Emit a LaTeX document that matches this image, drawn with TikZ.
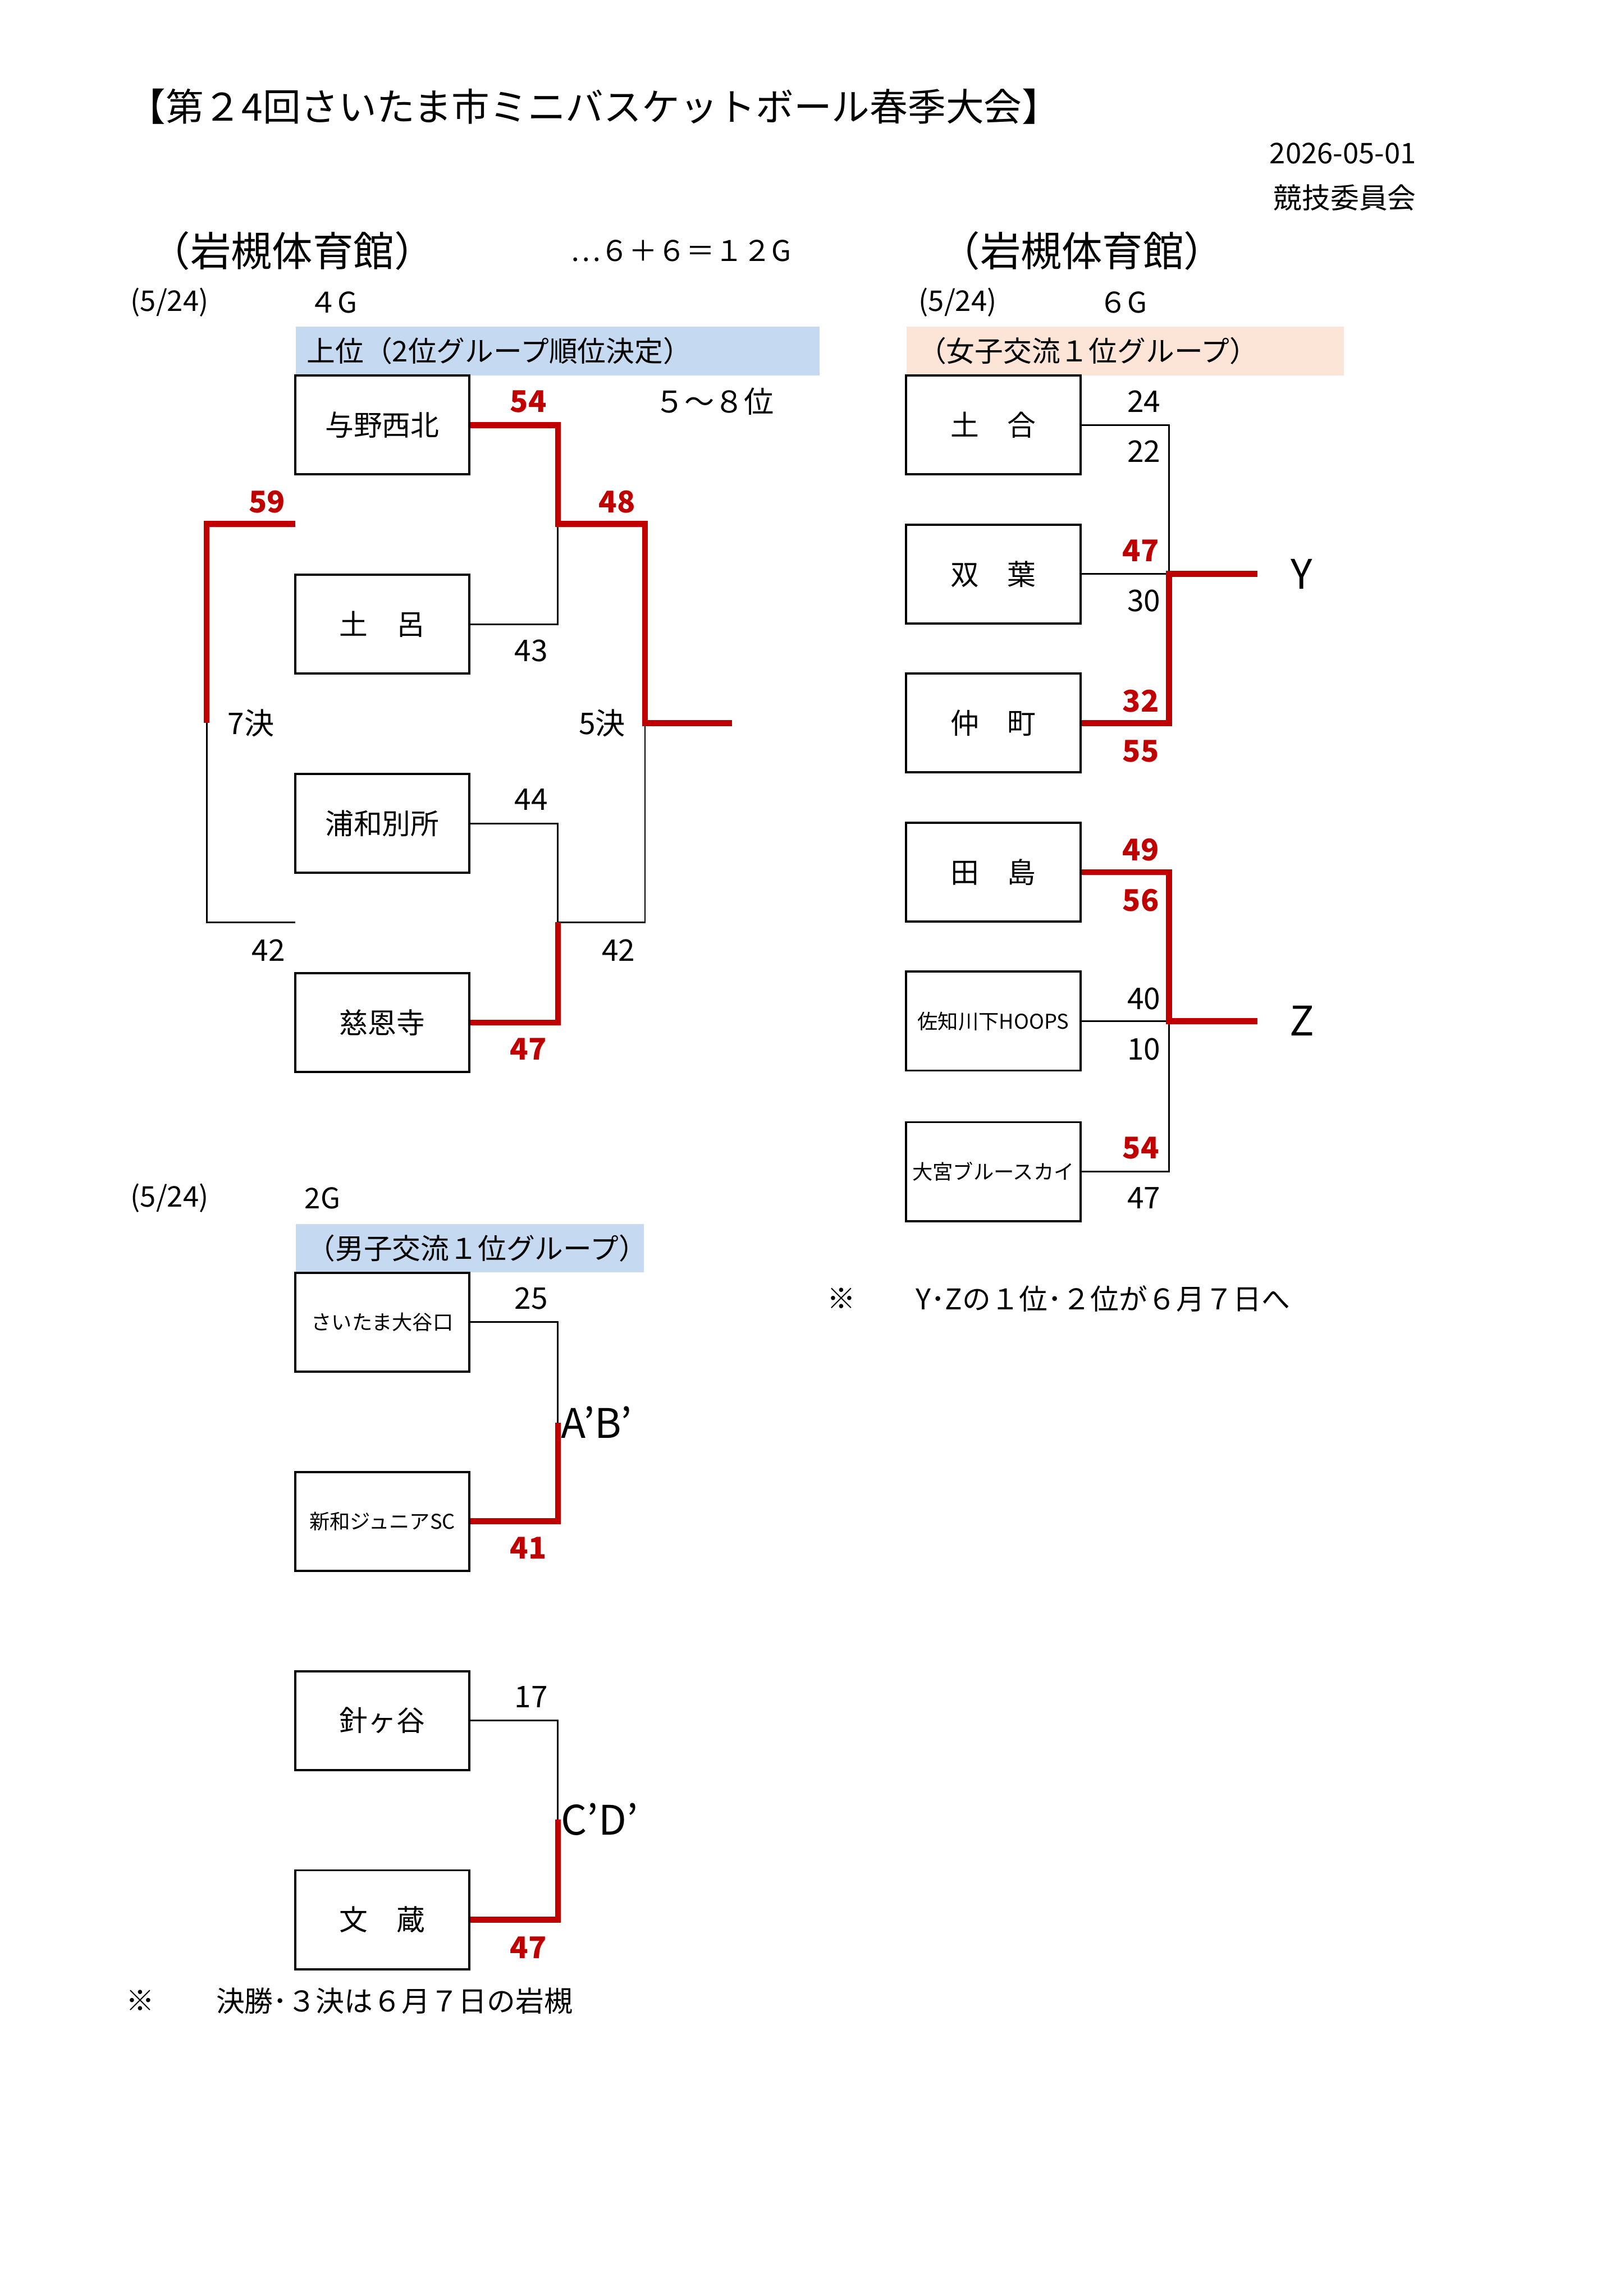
\documentclass[tikz,border=0pt]{standalone}
\usepackage{fontspec}
\setmainfont{Noto Sans CJK JP}
\usepackage{xcolor}
\usetikzlibrary{positioning}
\definecolor{my-red}{RGB}{192,0,0}
\definecolor{my-blue}{RGB}{197,217,241}
\definecolor{my-peach}{RGB}{252,228,214}
\begin{document}
\begin{tikzpicture}[x=0.0191cm,y=-0.0191cm,
    font=\fontsize{10.5}{12}\selectfont,
    team/.style={draw, line width=0.8pt, minimum width=118*0.0191cm, minimum height=67*0.0191cm, inner sep=1pt},
    small/.style={font=\fontsize{7.5}{9}\selectfont},
    band/.style={anchor=north west, inner sep=3pt, minimum height=33*0.0191cm},
    win/.style={my-red, line width=2.2pt},
    lose/.style={black, line width=0.6pt},
    red/.style={text=my-red, font=\bfseries\fontsize{11}{12}\selectfont},
    sc/.style={font=\fontsize{11}{12}\selectfont}
    ]
    \useasboundingbox (0,0) rectangle (1100,1556);

    %%% HEADER
    \node[anchor=west, font=\fontsize{14}{16}\selectfont] (title) at (80,72) {【第２4回さいたま市ミニバスケットボール春季大会】};
    \node[anchor=east] (date) at (966,104) {2026-05-01};
    \node[anchor=east] (comm) at (966,134) {競技委員会};

    %%% LEFT
    \node[anchor=west, font=\fontsize{15}{16}\selectfont] (hall1) at (95,170) {（岩槻体育館）};
    \node[anchor=west] (games1) at (380,170) {…６＋６＝１２G};
    \node[anchor=west] (day1) at (82,205) {(5/24)};
    \node[anchor=west] (g1) at (203,205) {４G};
    \node[band, fill=my-blue, minimum width=355*0.0191cm, align=left, text width=340*0.0191cm] (band1) at (200,221) {上位（2位グループ順位決定）};
    \node[team] (yono) at (259,288) {与野西北};
    \node[team] (toro) at (259,423) {土\quad 呂};
    \node[team] (urawa) at (259,558) {浦和別所};
    \node[team] (jion) at (259,693) {慈恩寺};
    \coordinate (s1) at (378,355);
    \coordinate (s2) at (378,625);
    \coordinate (f5) at (437,490);
    \coordinate (f5e) at (496,490);
    \coordinate (f7) at (140,490);

    \draw[lose] (toro.east) -| (s1);
    \draw[lose] (urawa.east) -| (s2);
    \draw[lose] (s2) -| (f5);
    \draw[lose] (f7) |- (200,625);
    \draw[win] (yono.east) -| (s1) -| (f5) -- (f5e);
    \draw[win] (jion.east) -| (s2);
    \draw[win] (200,355) -| (f7);

    \node[red] at (358,272) {54};
    \node[red] at (418,340) {48};
    \node[red] at (181,340) {59};
    \node[sc] at (360,441) {43};
    \node[sc] at (170,490) {7決};
    \node[sc] at (408,490) {5決};
    \node[sc] at (360,542) {44};
    \node[sc] at (182,644) {42};
    \node[sc] at (419,644) {42};
    \node[red] at (358,711) {47};
    \node[sc] at (484,272) {５～８位};

    %%% RIGHT
    \node[anchor=west, font=\fontsize{15}{16}\selectfont] (hall2) at (630,170) {（岩槻体育館）};
    \node[anchor=west] (day2) at (616,205) {(5/24)};
    \node[anchor=west] (g2) at (738,205) {６G};
    \node[band, fill=my-peach, minimum width=296*0.0191cm, align=left, text width=281*0.0191cm] (band2) at (614,221) {（女子交流１位グループ）};
    \node[team] (doai) at (673,288) {土\quad 合};
    \node[team] (futaba) at (673,389) {双\quad 葉};
    \node[team] (naka) at (673,490) {仲\quad 町};
    \node[team] (tajima) at (673,591) {田\quad 島};
    \node[team, small] (hoops) at (673,692) {佐知川下HOOPS};
    \node[team, small] (omiya) at (673,794) {大宮ブルースカイ};
    \coordinate (y1) at (792,389);
    \coordinate (z1) at (792,692);
    \node[font=\fontsize{15}{16}\selectfont] (Y) at (882,389) {Y};
    \node[font=\fontsize{15}{16}\selectfont] (Z) at (882,692) {Z};

    \draw[lose] (doai.east) -| (y1);
    \draw[lose] (futaba.east) -- (y1);
    \draw[lose] (hoops.east) -- (z1);
    \draw[lose] (omiya.east) -| (z1);
    \draw[win] (naka.east) -| (y1) -- (852,389);
    \draw[win] (tajima.east) -| (z1) -- (852,692);

    \node[sc] at (775,272) {24};
    \node[sc] at (775,306) {22};
    \node[red] at (773,373) {47};
    \node[sc] at (775,407) {30};
    \node[red] at (773,475) {32};
    \node[red] at (773,509) {55};
    \node[red] at (773,576) {49};
    \node[red] at (773,610) {56};
    \node[sc] at (775,677) {40};
    \node[sc] at (775,711) {10};
    \node[red] at (773,778) {54};
    \node[sc] at (775,812) {47};
    \node (note1a) at (570,880) {※};
    \node[anchor=west] (note1) at (614,880) {Y･Zの１位･２位が６月７日へ};

    %%% BOTTOM
    \node[anchor=west] (day3) at (82,812) {(5/24)};
    \node[anchor=west] (g3) at (200,812) {2G};
    \node[band, fill=my-blue, minimum width=236*0.0191cm, align=left, text width=221*0.0191cm] (band3) at (200,829) {（男子交流１位グループ）};
    \node[team, small] (otani) at (259,896) {さいたま大谷口};
    \node[team, small] (shinwa) at (259,1031) {新和ジュニアSC};
    \node[team] (hari) at (259,1166) {針ヶ谷};
    \node[team] (bunzo) at (259,1301) {文\quad 蔵};
    \coordinate (ab) at (378,964);
    \coordinate (cd) at (378,1233);
    \draw[lose] (otani.east) -| (ab);
    \draw[win] (shinwa.east) -| (ab);
    \draw[lose] (hari.east) -| (cd);
    \draw[win] (bunzo.east) -| (cd);
    \node[anchor=west, inner sep=1pt, font=\fontsize{15}{16}\selectfont] at (ab) {A’B'};
    \node[anchor=west, inner sep=1pt, font=\fontsize{15}{16}\selectfont] at (cd) {C’D'};
    \node[sc] at (360,880) {25};
    \node[red] at (358,1049) {41};
    \node[sc] at (360,1150) {17};
    \node[red] at (358,1320) {47};
    \node (note2a) at (95,1356) {※};
    \node[anchor=west] (note2) at (140,1356) {決勝･３決は６月７日の岩槻};
\end{tikzpicture}
\end{document}
